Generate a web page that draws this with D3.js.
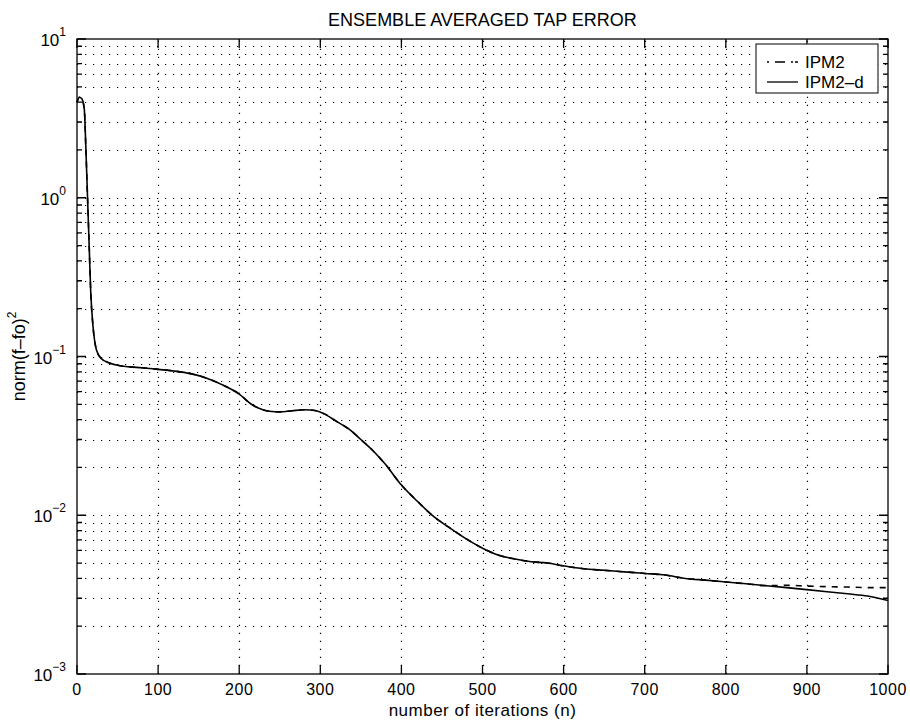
<!DOCTYPE html>
<html>
<head>
<meta charset="utf-8">
<script src="https://cdn.jsdelivr.net/npm/d3@7"></script>
<style>
  body { margin: 0; background: #fff; }
  text { font-family: "Liberation Sans", Arial, sans-serif; fill: #000; }
</style>
</head>
<body>
<svg id="drawing_region"></svg>
<script>
// iterations and ensemble averaged tap error
const iters = [0, 3, 6, 9, 11, 13, 15, 17, 20, 24, 30, 40, 50, 65, 80, 100, 120, 140, 160, 180,
  200, 215, 230, 240, 250, 265, 280, 295, 305, 320, 335, 350, 365, 380, 400, 420, 440, 460, 480, 500,
  520, 540, 560, 580, 600, 625, 650, 675, 700, 725, 750, 775, 800, 825, 850, 875, 900, 925, 950, 975, 1000];
const ipm2d = [4.0, 4.3, 4.2, 3.6, 2.0, 1.0, 0.5, 0.25, 0.15, 0.11, 0.097, 0.091, 0.088, 0.086, 0.085, 0.083, 0.081, 0.078, 0.073, 0.066,
  0.058, 0.050, 0.046, 0.045, 0.0448, 0.0455, 0.0462, 0.0455, 0.0435, 0.039, 0.035, 0.030, 0.0255, 0.021, 0.0155, 0.0122, 0.0098, 0.0083, 0.0071, 0.0062,
  0.0056, 0.0053, 0.0051, 0.0050, 0.0048, 0.0046, 0.0045, 0.0044, 0.0043, 0.0042, 0.0040, 0.0039, 0.0038, 0.0037, 0.0036, 0.0035, 0.0034, 0.0033, 0.0032, 0.0031, 0.0029];
const ipm2 = [4.0, 4.3, 4.2, 3.6, 2.0, 1.0, 0.5, 0.25, 0.15, 0.11, 0.097, 0.091, 0.088, 0.086, 0.085, 0.083, 0.081, 0.078, 0.073, 0.066,
  0.058, 0.050, 0.046, 0.045, 0.0448, 0.0455, 0.0462, 0.0455, 0.0435, 0.039, 0.035, 0.030, 0.0255, 0.021, 0.0155, 0.0122, 0.0098, 0.0083, 0.0071, 0.0062,
  0.0056, 0.0053, 0.0051, 0.0050, 0.0048, 0.0046, 0.0045, 0.0044, 0.0043, 0.0042, 0.0040, 0.0039, 0.0038, 0.0037, 0.0036, 0.00362, 0.00358, 0.00355, 0.00353, 0.0035, 0.0035];
const xTicks = [0, 100, 200, 300, 400, 500, 600, 700, 800, 900, 1000];
const yDecades = [-3, -2, -1, 0, 1];
const seriesNames = ["IPM2", "IPM2-d"];

const W = 910, H = 722;
const margin = {top: 39, right: 22, bottom: 48, left: 77};

const svg = d3.select('#drawing_region')
    .attr('width', W)
    .attr('height', H);

const x = d3.scaleLinear().domain([0, 1000]).range([margin.left, W - margin.right]);
const y = d3.scaleLog().domain([1e-3, 10]).range([H - margin.bottom, margin.top]);

const x0 = x.range()[0], x1 = x.range()[1];
const y0 = y.range()[0], y1 = y.range()[1];

// minor log positions
let minor = [];
yDecades.slice(0, -1).forEach(e => {
    for (let k = 2; k <= 9; k++) minor.push(k * Math.pow(10, e));
});

// grid
const grid = svg.append('g')
    .attr('stroke', '#000')
    .attr('stroke-width', 1.2)
    .attr('stroke-dasharray', '1.2,6.8');

grid.selectAll('.vg')
    .data(xTicks.slice(1, -1))
    .enter().append('line')
    .attr('x1', d => Math.round(x(d)) + 0.5).attr('x2', d => Math.round(x(d)) + 0.5)
    .attr('y1', y0).attr('y2', y1);

grid.selectAll('.hg')
    .data(minor.concat([1e-2, 1e-1, 1]))
    .enter().append('line')
    .attr('x1', x0).attr('x2', x1)
    .attr('y1', d => Math.round(y(d)) + 0.5).attr('y2', d => Math.round(y(d)) + 0.5);

// lines
const line = vals => d3.line()
    .x((d, i) => x(iters[i]))
    .y((d, i) => y(vals[i]))
    .curve(d3.curveMonotoneX)(vals);

svg.append('path')
    .attr('d', line(ipm2))
    .attr('fill', 'none')
    .attr('stroke', '#000')
    .attr('stroke-width', 1.6)
    .attr('stroke-dasharray', '6,6');

svg.append('path')
    .attr('d', line(ipm2d))
    .attr('fill', 'none')
    .attr('stroke', '#000')
    .attr('stroke-width', 1.6);

// axes: inward ticks on all four sides
const ax = svg.append('g').attr('stroke', '#000').attr('stroke-width', 1.3);

ax.append('rect')
    .attr('x', x0).attr('y', y1)
    .attr('width', x1 - x0).attr('height', y0 - y1)
    .attr('fill', 'none');

ax.selectAll('.xt')
    .data(xTicks)
    .enter().append('path')
    .attr('d', d => `M${x(d)},${y0}v-9M${x(d)},${y1}v9`);

ax.selectAll('.ymaj')
    .data(yDecades)
    .enter().append('path')
    .attr('d', d => `M${x0},${y(Math.pow(10, d))}h9M${x1},${y(Math.pow(10, d))}h-9`);

ax.selectAll('.ymin')
    .data(minor)
    .enter().append('path')
    .attr('d', d => `M${x0},${y(d)}h5M${x1},${y(d)}h-5`);

// tick labels
svg.selectAll('.xl')
    .data(xTicks)
    .enter().append('text')
    .attr('x', d => x(d))
    .attr('y', y0 + 21)
    .attr('text-anchor', 'middle')
    .style('font-size', '16px')
    .style('letter-spacing', '0.5px')
    .text(d => d);

const yl = svg.selectAll('.yl')
    .data(yDecades)
    .enter().append('text')
    .attr('x', 66)
    .attr('y', d => y(Math.pow(10, d)) + 7)
    .attr('text-anchor', 'end')
    .style('font-size', '17px');
yl.append('tspan').text('10');
yl.append('tspan')
    .attr('dy', -10)
    .style('font-size', '12px')
    .text(d => d < 0 ? '\u2212' + (-d) : d);

// title and labels
svg.append('text')
    .attr('x', (x0 + x1) / 2)
    .attr('y', 26)
    .attr('text-anchor', 'middle')
    .style('font-size', '18px')
    .text('ENSEMBLE AVERAGED TAP ERROR');

svg.append('text')
    .attr('x', (x0 + x1) / 2)
    .attr('y', 716)
    .attr('text-anchor', 'middle')
    .style('font-size', '17px')
    .style('letter-spacing', '0.5px')
    .text('number of iterations (n)');

const ylab = svg.append('text')
    .attr('transform', `translate(25, ${(y0 + y1) / 2}) rotate(-90)`)
    .attr('text-anchor', 'middle')
    .style('font-size', '18px');
ylab.append('tspan').text('norm(f\u2013fo)');
ylab.append('tspan').attr('dy', -9).style('font-size', '12px').text('2');

// legend
const lg = svg.append('g').attr('transform', 'translate(756,44)');
lg.append('rect')
    .attr('width', 122).attr('height', 49)
    .attr('fill', '#fff').attr('stroke', '#000').attr('stroke-width', 1);

const items = lg.selectAll('.li')
    .data(seriesNames)
    .enter().append('g')
    .attr('transform', (d, i) => `translate(0, ${18 + i * 20})`);

items.append('line')
    .attr('x1', 11).attr('x2', 42)
    .attr('stroke', '#000').attr('stroke-width', 1.3)
    .attr('stroke-dasharray', (d, i) => i == 0 ? '2,6,10,6,2' : null);

items.append('text')
    .attr('x', 49).attr('y', 6)
    .style('font-size', '17px')
    .text(d => d.replace('-', '\u2013'));
</script>
</body>
</html>
